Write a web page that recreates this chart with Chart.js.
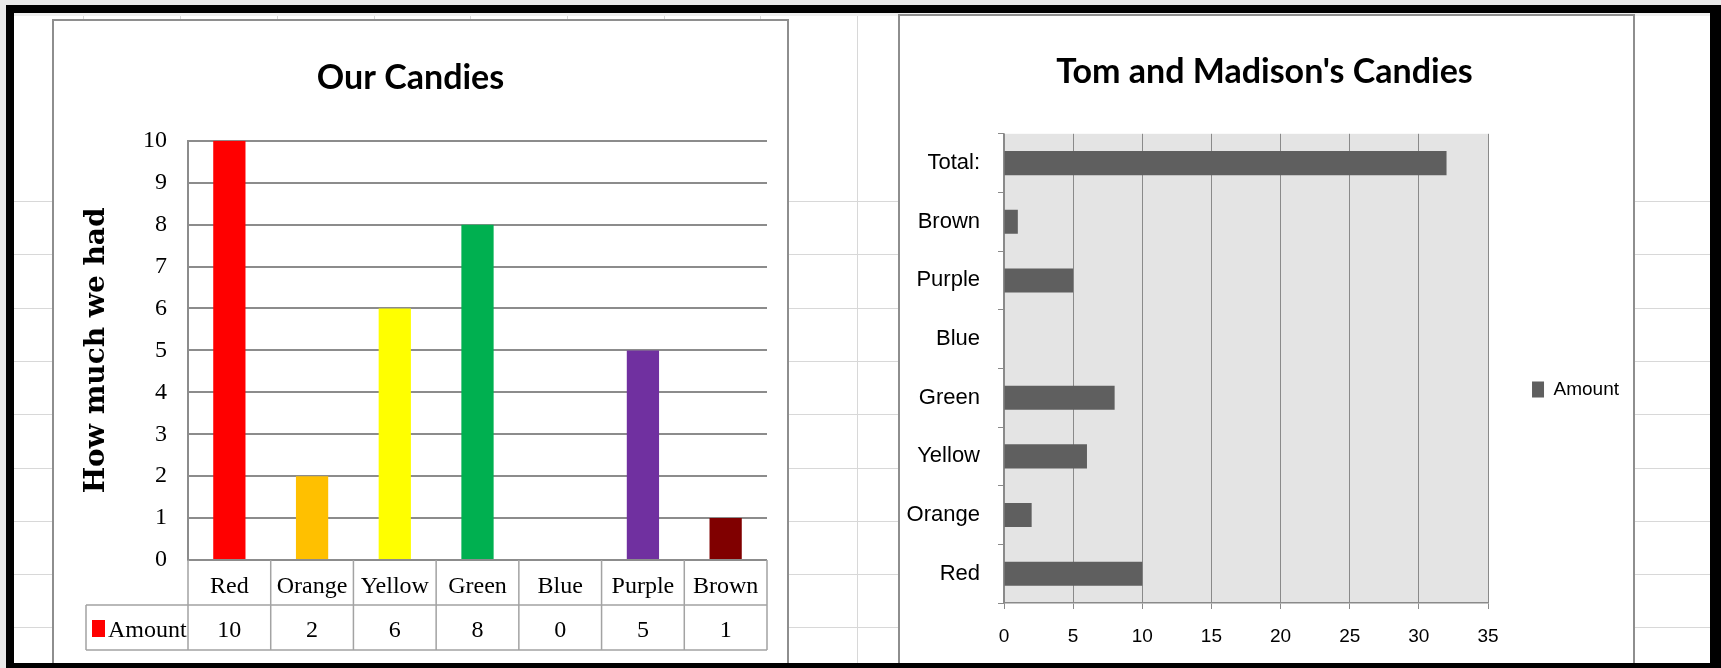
<!DOCTYPE html>
<html>
<head>
<meta charset="utf-8">
<title>Candies</title>
<script src="https://cdn.jsdelivr.net/npm/chart.js@4.4.1/dist/chart.umd.min.js"></script>
<style>
  html, body { margin: 0; padding: 0; }
  body { width: 1721px; height: 668px; background: #e9e9e9; position: relative; overflow: hidden; }
  #frame {
    position: absolute; left: 6px; top: 5px; width: 1696px; height: 650px;
    border: solid #000; border-width: 8px 11px 5px 8px;
    background: #fff; overflow: hidden;
  }
  .gl { position: absolute; background: #d8d8d8; }
  .box { position: absolute; z-index: 1; background: #fff; border: 2px solid #8e8e8e; width: 733px; height: 660px; }
  #boxLeft { left: 38px; top: 6px; }
  #boxRight { left: 884px; top: 1px; }
  .box canvas { position: absolute; left: 0; top: 0; }
</style>
</head>
<body>
<div id="frame">
  <div class="box" id="boxLeft"><canvas id="ourChart" width="733" height="645"></canvas></div>
  <div class="box" id="boxRight"><canvas id="tmChart" width="733" height="645"></canvas></div>
</div>
<script>
// data
const candyColours = ["Red", "Orange", "Yellow", "Green", "Blue", "Purple", "Brown"];
const ourAmounts = [10, 2, 6, 8, 0, 5, 1];
const barColours = ["#ff0000", "#ffc000", "#ffff00", "#00b050", "#0070c0", "#7030a0", "#800000"];

const tmLabels = ["Red", "Orange", "Yellow", "Green", "Blue", "Purple", "Brown", "Total:"];
const tmAmounts = [10, 2, 6, 8, 0, 5, 1, 32];

const titleFont = "Lato, 'Open Sans', sans-serif";
const serifFont = "'Liberation Serif', 'Times New Roman', serif";
const sansFont = "'Liberation Sans', Arial, sans-serif";

// spreadsheet grid behind the charts
const frame = document.getElementById("frame");
for (let k = -8; k <= 8; k++) {
  const col = document.createElement("div");
  col.className = "gl";
  col.style.left = Math.round(843 + k * 96.7) + "px";
  col.style.top = "0px";
  col.style.width = "1px";
  col.style.height = "650px";
  frame.appendChild(col);
}
for (let k = 0; k <= 8; k++) {
  const row = document.createElement("div");
  row.className = "gl";
  row.style.left = "0px";
  row.style.top = Math.round(188 + k * 53.3) + "px";
  row.style.width = "1696px";
  row.style.height = "1px";
  frame.appendChild(row);
}
const band = document.createElement("div");
band.className = "gl";
band.style.cssText = "left:0;top:0;width:1696px;height:3px;background:#eeeeee";
frame.appendChild(band);

// data table under the column chart
const tablePlugin = {
  id: "dataTable",
  afterDraw(chart) {
    const ctx = chart.ctx;
    const x = chart.scales.x;
    const top = x.top;
    const mid = x.bottom;
    const bot = x.bottom + (x.bottom - x.top);
    const half = x.width / ourAmounts.length / 2;
    const legendLeft = 32;

    ctx.save();
    ctx.strokeStyle = "#a3a3a3";
    ctx.lineWidth = 1.5;
    ctx.beginPath();
    ctx.moveTo(legendLeft, mid);
    ctx.lineTo(x.right, mid);
    ctx.moveTo(legendLeft, bot);
    ctx.lineTo(x.right, bot);
    ctx.moveTo(legendLeft, mid);
    ctx.lineTo(legendLeft, bot);
    ctx.moveTo(x.left, top);
    ctx.lineTo(x.left, bot);
    for (let i = 0; i < ourAmounts.length; i++) {
      const edge = x.getPixelForValue(i) + half;
      ctx.moveTo(edge, top);
      ctx.lineTo(edge, bot);
    }
    ctx.stroke();

    const rowMid = (mid + bot) / 2 + 3;
    ctx.fillStyle = "#000";
    ctx.font = "24px " + serifFont;
    ctx.textAlign = "center";
    ctx.textBaseline = "middle";
    ourAmounts.forEach((v, i) => {
      ctx.fillText(String(v), x.getPixelForValue(i), rowMid);
    });

    ctx.fillStyle = barColours[0];
    ctx.fillRect(legendLeft + 6, mid + 15, 13, 17);
    ctx.fillStyle = "#000";
    ctx.textAlign = "left";
    ctx.fillText("Amount", legendLeft + 22, rowMid);
    ctx.restore();
  }
};

// grey plot area for the bar chart
const plotBackground = {
  id: "plotBackground",
  beforeDraw(chart) {
    const { ctx, chartArea } = chart;
    ctx.save();
    ctx.fillStyle = "#e4e4e4";
    ctx.fillRect(chartArea.left, chartArea.top, chartArea.width, chartArea.height);
    ctx.restore();
  }
};

const ourChart = new Chart("ourChart", {
  type: "bar",
  data: {
    labels: candyColours,
    datasets: [
      {
        label: "Amount",
        data: ourAmounts,
        backgroundColor: barColours,
        barPercentage: 0.39,
        categoryPercentage: 1,
      },
    ],
  },
  options: {
    responsive: false,
    animation: false,
    layout: { padding: { left: 0, right: 20, top: 0, bottom: 61 } },
    plugins: {
      legend: { display: false },
      tooltip: { enabled: false },
      title: {
        display: true,
        text: "Our Candies",
        color: "#000",
        font: { family: titleFont, size: 34, weight: "bold" },
        padding: { top: 37, bottom: 42 },
      },
    },
    scales: {
      x: {
        grid: { display: false },
        border: { display: false },
        ticks: { color: "#000", font: { family: serifFont, size: 24 }, padding: 4 },
        afterFit: (scale) => { scale.height = 45; },
      },
      y: {
        min: 0,
        max: 10,
        ticks: { stepSize: 1, color: "#000", font: { family: serifFont, size: 24 }, padding: 21 },
        grid: { color: "#8c8c8c", lineWidth: 2, drawTicks: false },
        border: { color: "#8c8c8c", width: 2 },
        title: {
          display: true,
          text: "How much we had",
          color: "#000",
          font: { family: "'DejaVu Serif', serif", size: 28, weight: "bold" },
          padding: { top: 26, bottom: 0 },
        },
        afterFit: (scale) => { scale.width = 134; },
      },
    },
  },
  plugins: [tablePlugin],
});

const tmChart = new Chart("tmChart", {
  type: "bar",
  data: {
    labels: tmLabels,
    datasets: [
      {
        label: "Amount",
        data: tmAmounts,
        backgroundColor: "#5f5f5f",
        borderWidth: 0,
        barPercentage: 0.41,
        categoryPercentage: 1,
      },
    ],
  },
  options: {
    indexAxis: "y",
    responsive: false,
    animation: false,
    layout: { padding: { right: 4 } },
    plugins: {
      tooltip: { enabled: false },
      title: {
        display: true,
        text: "Tom and Madison's Candies",
        color: "#000",
        font: { family: titleFont, size: 34, weight: "bold" },
        padding: { top: 36, bottom: 41 },
      },
      legend: {
        position: "right",
        fullSize: false,
        title: { display: true, text: " ", padding: 9, font: { size: 20 } },
        labels: {
          boxWidth: 12,
          boxHeight: 16,
          padding: 44,
          color: "#000",
          font: { family: sansFont, size: 19 },
        },
      },
    },
    scales: {
      x: {
        min: 0,
        max: 35,
        ticks: { stepSize: 5, color: "#000", font: { family: sansFont, size: 19 }, padding: 16 },
        grid: { color: "#8a8a8a", lineWidth: 1, tickLength: 6 },
        border: { color: "#8a8a8a", width: 1.5 },
        afterFit: (scale) => { scale.height = 58; },
      },
      y: {
        reverse: true,
        ticks: { color: "#000", font: { family: sansFont, size: 22 }, padding: 18 },
        grid: { offset: true, drawOnChartArea: false, tickLength: 6, color: "#8a8a8a" },
        border: { color: "#8a8a8a", width: 1.5 },
        afterFit: (scale) => { scale.width = 104; },
      },
    },
  },
  plugins: [plotBackground],
});
</script>
</body>
</html>
